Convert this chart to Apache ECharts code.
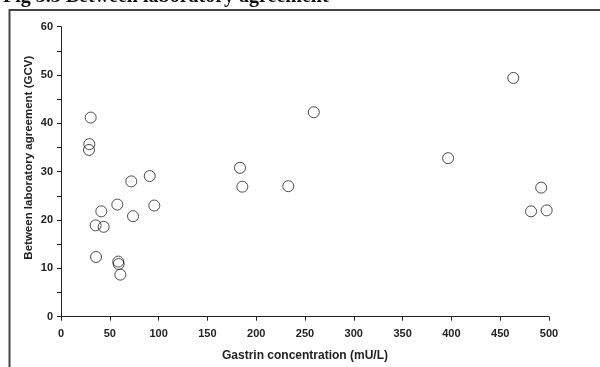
<!DOCTYPE html>
<html>
<head>
<meta charset="utf-8">
<script src="https://cdn.jsdelivr.net/npm/echarts@6/dist/echarts.min.js"></script>
<style>
  html, body { margin: 0; padding: 0; background: #fff; }
  #chart { width: 600px; height: 367px; }
</style>
</head>
<body>
<div id="chart"></div>
<script>
// gastrin concentration (mU/L) and between-lab GCV (%)
const gastrin = [30.4, 29, 28.7, 72, 90.9, 57.7, 95.6, 41.3, 73.8, 35.5, 43.7, 35.9, 58.7, 59.1, 60.8,
  183.4, 185.8, 232.9, 259, 396.6, 463.4, 492, 481.6, 497.6]
const gcv = [41.2, 35.7, 34.5, 28.0, 29.1, 23.2, 23.0, 21.8, 20.8, 18.9, 18.6, 12.35, 11.4, 10.9, 8.7,
  30.8, 26.9, 27.0, 42.3, 32.8, 49.4, 26.7, 21.8, 22.0]

const points = gastrin.map((x, i) => [x, gcv[i]])

const axisFont = 'Liberation Sans, Arial, sans-serif'
const ink = '#222'

const chart = echarts.init(document.getElementById('chart'), null, { renderer: 'canvas' })

const option = {
  animation: false,
  title: {
    text: 'Fig 3.3 Between laboratory agreement',
    left: 3,
    top: -13,
    padding: 0,
    textStyle: {
      fontFamily: 'Liberation Serif, Times New Roman, serif',
      fontWeight: 'bold',
      fontSize: 20,
      color: '#111'
    }
  },
  graphic: [
    {
      type: 'polyline',
      shape: { points: [[9.5, 367], [9.5, 10], [600, 10]] },
      style: { stroke: '#444', lineWidth: 2, fill: null }
    }
  ],
  grid: {
    left: 61,
    right: 51,
    top: 26.7,
    bottom: 50.3
  },
  xAxis: {
    type: 'value',
    min: 0,
    max: 500,
    interval: 50,
    name: 'Gastrin concentration (mU/L)',
    nameLocation: 'middle',
    nameMoveOverlap: false,
    nameGap: 33,
    nameTextStyle: { fontFamily: axisFont, fontWeight: 'bold', fontSize: 12, color: ink },
    axisLine: { show: true, lineStyle: { color: ink, width: 1 } },
    axisTick: { show: true, length: 4, lineStyle: { color: ink } },
    axisLabel: { margin: 12, fontFamily: axisFont, fontWeight: 'bold', fontSize: 11, color: ink },
    splitLine: { show: false }
  },
  yAxis: {
    type: 'value',
    min: 0,
    max: 60,
    interval: 10,
    name: 'Between laboratory agreement (GCV)',
    nameLocation: 'middle',
    nameMoveOverlap: false,
    nameGap: 26,
    nameTextStyle: {
      fontFamily: axisFont, fontWeight: 'bold', fontSize: 11.5, color: ink,
      padding: [0, 0, 0, 28]
    },
    axisLine: { show: true, lineStyle: { color: ink, width: 1 } },
    axisTick: { show: true, length: 4, lineStyle: { color: ink } },
    minorTick: { show: true, splitNumber: 2, length: 4, lineStyle: { color: ink } },
    axisLabel: { margin: 8, fontFamily: axisFont, fontWeight: 'bold', fontSize: 11, color: ink },
    splitLine: { show: false }
  },
  series: [
    {
      type: 'scatter',
      data: points,
      symbol: 'circle',
      symbolSize: 11,
      itemStyle: {
        color: 'rgba(255,255,255,0)',
        borderColor: ink,
        borderWidth: 1
      }
    }
  ]
}

chart.setOption(option)
</script>
</body>
</html>
